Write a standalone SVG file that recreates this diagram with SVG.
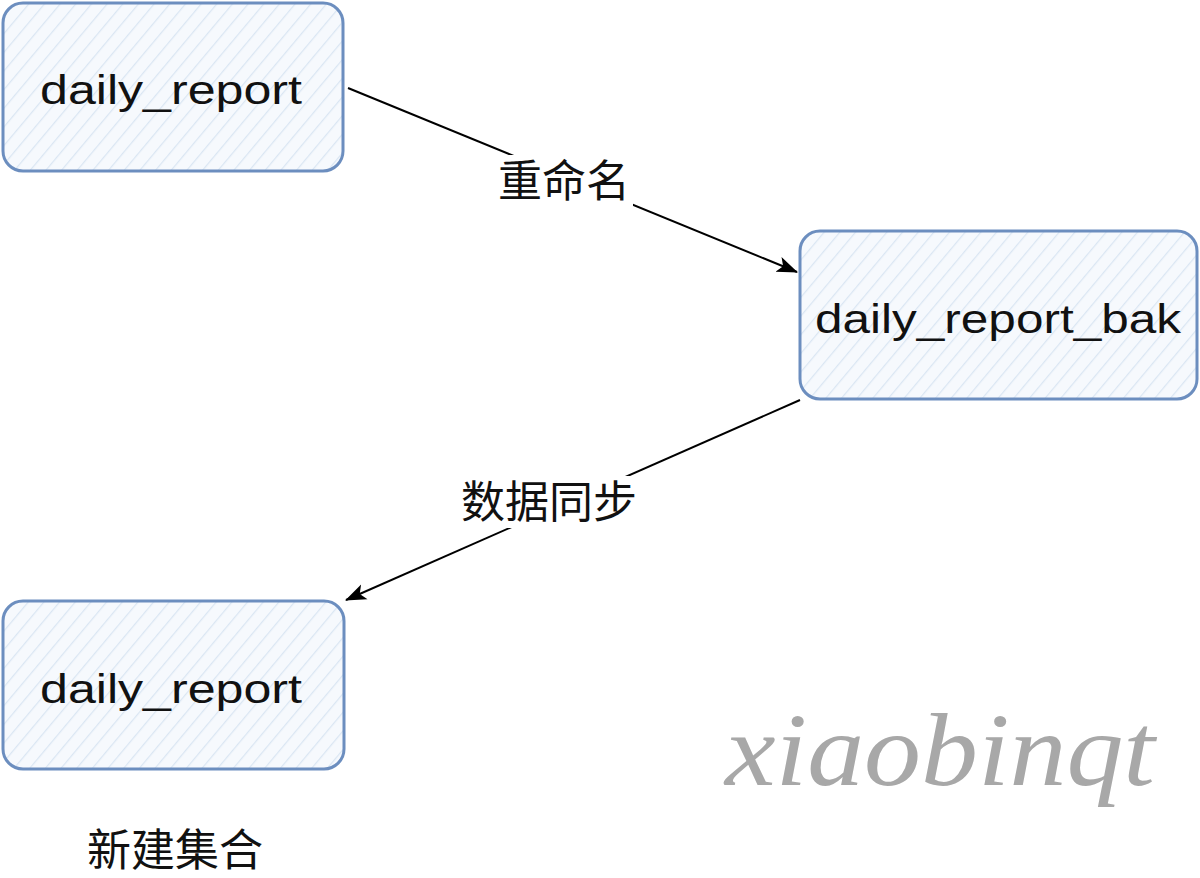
<svg xmlns="http://www.w3.org/2000/svg" width="1200" height="878" viewBox="0 0 1200 878">
<defs>
<pattern id="hatch" patternUnits="userSpaceOnUse" width="12" height="12" patternTransform="rotate(40)">
<rect width="12" height="12" fill="#f6f9fd"/>
<line x1="0" y1="0" x2="0" y2="12" stroke="#dae6f3" stroke-width="2.5"/>
</pattern>
<marker id="arrow" markerWidth="22" markerHeight="18" refX="20" refY="8" orient="auto" markerUnits="userSpaceOnUse" viewBox="0 0 22 16">
<path d="M0,0 L21,8 L0,16 L5,8 Z" fill="#000"/>
</marker>
<style>
.box{fill:url(#hatch);stroke:#6c8ebf;stroke-width:3}
.lbl{font-family:"Liberation Sans",Arial,sans-serif;font-size:40px;fill:#111}
.cn{font-family:"Noto Sans CJK SC",sans-serif;font-size:44px;fill:#111}
.edge{stroke:#000;stroke-width:2;fill:none}
</style>
</defs>
<rect width="1200" height="878" fill="#fff"/>
<g id="connectors">
<g id="edge1">
<line class="edge" x1="348" y1="88" x2="797" y2="272" marker-end="url(#arrow)"/>
<rect x="495" y="155" width="138" height="52" fill="#fff"/>
<text class="cn" x="564" y="197" text-anchor="middle">重命名</text>
</g>
<g id="edge2">
<line class="edge" x1="800" y1="400" x2="346" y2="600" marker-end="url(#arrow)"/>
<rect x="456" y="476" width="186" height="52" fill="#fff"/>
<text class="cn" x="549" y="518" text-anchor="middle">数据同步</text>
</g>
</g>
<g id="node-daily-report-1">
<rect class="box" x="3" y="3" width="340" height="168" rx="20"/>
<text class="lbl" x="171" y="104" text-anchor="middle" textLength="262" lengthAdjust="spacingAndGlyphs">daily_report</text>
</g>
<g id="node-daily-report-bak">
<rect class="box" x="800" y="231" width="397" height="168" rx="20"/>
<text class="lbl" x="998" y="333" text-anchor="middle" textLength="366" lengthAdjust="spacingAndGlyphs">daily_report_bak</text>
</g>
<g id="node-daily-report-2">
<rect class="box" x="3" y="601" width="341" height="168" rx="20"/>
<text class="lbl" x="171" y="703" text-anchor="middle" textLength="262" lengthAdjust="spacingAndGlyphs">daily_report</text>
</g>
<g id="caption">
<text class="cn" x="175" y="866" text-anchor="middle">新建集合</text>
</g>
<g id="watermark">
<text x="940" y="785" text-anchor="middle" font-family="Liberation Serif,serif" font-style="italic" font-size="104" fill="#a8a8a8" textLength="430" lengthAdjust="spacingAndGlyphs">xiaobinqt</text>
</g>
</svg>
